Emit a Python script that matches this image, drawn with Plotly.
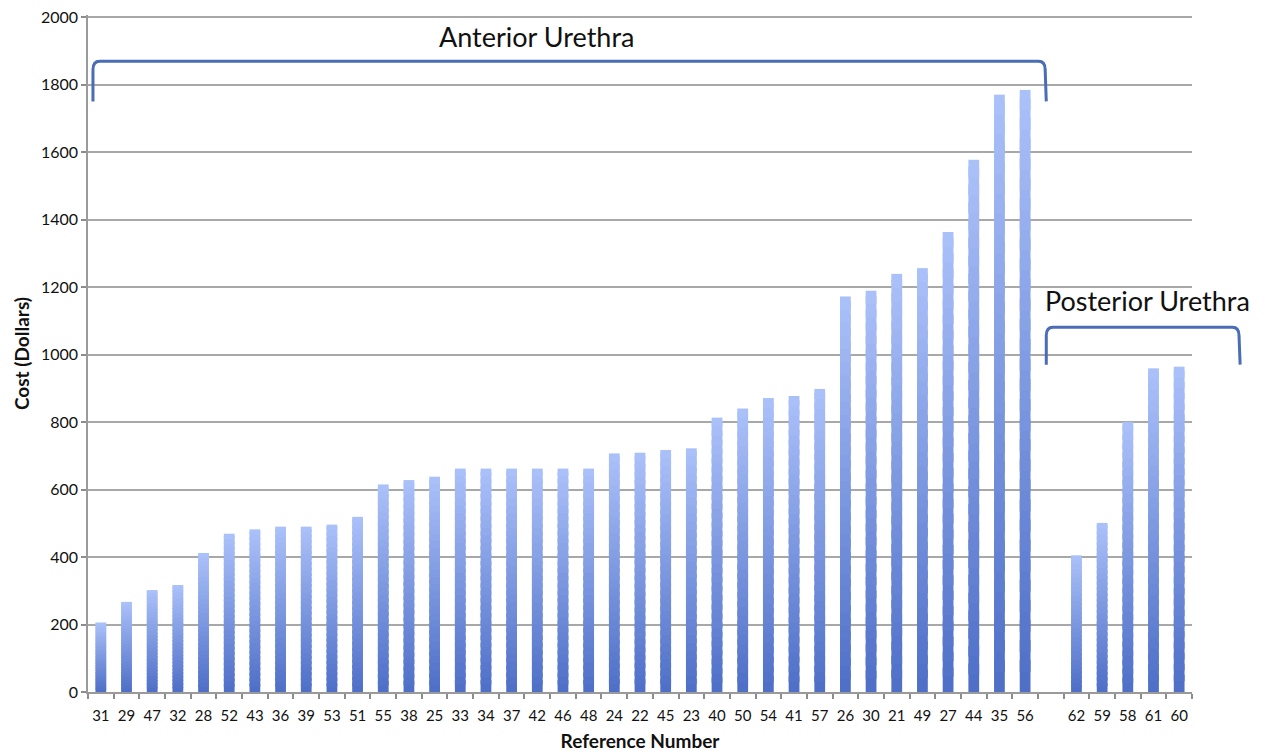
import plotly.graph_objects as go

# ---- data ----
anterior_refs = ["31", "29", "47", "32", "28", "52", "43", "36", "39", "53", "51", "55", "38",
                 "25", "33", "34", "37", "42", "46", "48", "24", "22", "45", "23", "40", "50",
                 "54", "41", "57", "26", "30", "21", "49", "27", "44", "35", "56"]
anterior_costs = [206, 267, 302, 317, 412, 469, 482, 490, 490, 496, 519, 615, 628,
                  638, 662, 662, 662, 662, 662, 662, 707, 709, 717, 722, 813, 840,
                  871, 877, 898, 1172, 1189, 1239, 1256, 1363, 1577, 1770, 1784]
posterior_refs = ["62", "59", "58", "61", "60"]
posterior_costs = [405, 501, 800, 959, 964]
y_ticks = [0, 200, 400, 600, 800, 1000, 1200, 1400, 1600, 1800, 2000]

spacer = " "
categories = anterior_refs + [spacer] + posterior_refs
values = anterior_costs + [0] + posterior_costs

# vertical gradient, light at the top of each bar, darker at the base
top_rgb = (170, 192, 249)
bot_rgb = (80, 112, 200)
N = 30

fig = go.Figure()
for k in range(N):
    t = k / (N - 1)  # 0 at bottom, 1 at top
    c = tuple(round(bot_rgb[j] + (top_rgb[j] - bot_rgb[j]) * t) for j in range(3))
    overlap = 1.6 if k < N - 1 else 1.0
    fig.add_trace(go.Bar(
        x=categories,
        y=[v / N * overlap for v in values],
        base=[v * k / N for v in values],
        marker=dict(color="rgb(%d,%d,%d)" % c, line=dict(width=0)),
        hoverinfo="skip",
        showlegend=False,
    ))

fig.update_layout(
    width=1259, height=746,
    barmode="overlay",
    bargap=0.58,
    plot_bgcolor="white",
    paper_bgcolor="white",
    margin=dict(l=80, r=75, t=7, b=62),
    font=dict(family="Lato, Open Sans, sans-serif", color="#111111"),
    showlegend=False,
)

fig.update_xaxes(
    type="category",
    categoryorder="array", categoryarray=categories,
    tickson="boundaries",
    ticks="outside", ticklen=5, tickcolor="#8c8c8c", tickwidth=1.5,
    showline=True, linecolor="#9a9a9a", linewidth=1.5,
    showgrid=False,
    tickangle=0,
    ticklabelstandoff=9,
    tickfont=dict(size=15, color="#111111"),
    title=dict(text="<b>Reference Number</b>", font=dict(size=19), standoff=12),
    range=[-0.5, len(categories) - 0.5],
    automargin=False,
)

fig.update_yaxes(
    range=[0, 2006],
    tickvals=y_ticks,
    ticks="outside", ticklen=5, tickcolor="#8c8c8c", tickwidth=1.5,
    showline=True, linecolor="#9a9a9a", linewidth=1.5,
    showgrid=True, gridcolor="#a8a8a8", gridwidth=1.5,
    zeroline=False,
    ticklabeloverflow="allow",
    tickfont=dict(size=16, color="#111111"),
    title=dict(text="<b>Cost (Dollars)</b>", font=dict(size=19), standoff=6),
    automargin=False,
)

# brackets
bracket_color = "#4a6db5"


def bracket_path(x0, x1, ytop, ybot, rx=0.006, ry=25):
    return ("M %f,%f L %f,%f Q %f,%f %f,%f L %f,%f Q %f,%f %f,%f L %f,%f" % (
        x0, ybot, x0, ytop - ry, x0, ytop, x0 + rx, ytop,
        x1 - rx, ytop, x1, ytop, x1, ytop - ry, x1 + 0.001, ybot))


fig.add_shape(type="path", xref="paper", yref="y",
              path=bracket_path(0.0045, 0.867, 1869, 1750),
              line=dict(color=bracket_color, width=3))
fig.add_shape(type="path", xref="paper", yref="y",
              path=bracket_path(0.868, 1.0426, 1081, 970),
              line=dict(color=bracket_color, width=3))

fig.add_annotation(text="Anterior Urethra", xref="paper", yref="y",
                   x=0.4058, y=1942, xanchor="center", yanchor="middle", showarrow=False,
                   font=dict(size=27, color="#111111"))
fig.add_annotation(text="Posterior Urethra", xref="paper", yref="y",
                   x=0.960, y=1160, xanchor="center", yanchor="middle", showarrow=False,
                   font=dict(size=27, color="#111111"))

fig.write_html("out.html")
